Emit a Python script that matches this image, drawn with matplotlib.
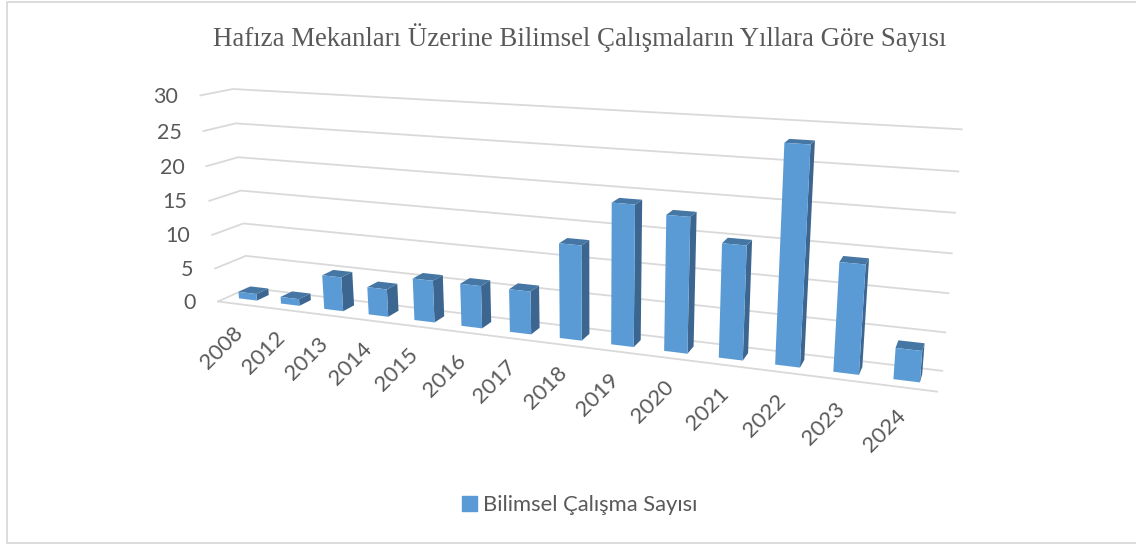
import numpy as np
import matplotlib
matplotlib.use('Agg')
import matplotlib.pyplot as plt
from matplotlib.patches import Patch
from matplotlib.transforms import Transform

years = ['2008', '2012', '2013', '2014', '2015', '2016', '2017',
         '2018', '2019', '2020', '2021', '2022', '2023', '2024']
counts = [1, 1, 5, 4, 6, 6, 6, 13, 19, 18, 15, 28, 14, 4]
y_ticks = [0, 5, 10, 15, 20, 25, 30]

title = 'Hafıza Mekanları Üzerine Bilimsel Çalışmaların Yıllara Göre Sayısı'
series_name = 'Bilimsel Çalışma Sayısı'

front_color = '#5B9BD5'
side_color = '#3C6590'
top_color = '#4676A3'
grid_color = '#D9D9D9'
text_color = '#595959'

# corners of the 3d box as they sit in the picture: (x, value, depth) -> pixel
anchors = [
    ((0, 0, 0), (218.3, 301.0)), ((0, 0, 1), (248.3, 288.3)),
    ((14, 0, 1), (942.3, 370.7)), ((14, 0, 0), (937.3, 391.7)),
    ((0, 30, 0), (200.0, 95.7)), ((0, 30, 1), (233.3, 88.7)),
    ((14, 30, 1), (961.7, 129.3)), ((0, 10, 1), (243.3, 223.3)),
    ((14, 10, 1), (948.3, 293.3)), ((0, 15, 0), (209.3, 201.0)),
]

# fit a camera matrix to the corners
rows = []
for (X, Y, Z), (u, v) in anchors:
    rows.append([X, Y, Z, 1, 0, 0, 0, 0, -u*X, -u*Y, -u*Z, -u])
    rows.append([0, 0, 0, 0, X, Y, Z, 1, -v*X, -v*Y, -v*Z, -v])
cam = np.linalg.svd(np.array(rows, dtype=float))[2][-1].reshape(3, 4)


def project(x, y, z):
    p = cam @ np.array([x, y, z, 1.0])
    return p[0] / p[2], p[1] / p[2]


class FrontFace(Transform):
    # (category, value) on the plane at depth z -> pixel
    input_dims = 2
    output_dims = 2

    def __init__(self, z):
        super().__init__()
        self.z = z

    def transform_non_affine(self, values):
        values = np.asarray(values, dtype=float)
        out = [project(x, y, self.z) for x, y in values]
        return np.array(out)


fig = plt.figure(figsize=(11.36, 5.44), dpi=100)
ax = fig.add_axes([0, 0, 1, 1])
ax.set_xlim(0, 1136)
ax.set_ylim(544, 0)
ax.autoscale(False)
ax.axis('off')

plt.rcParams['font.family'] = ['Lato', 'DejaVu Sans']

# chart border, the right side is cut off in the picture
ax.plot([1136, 7, 7, 1136], [1.5, 1.5, 543.2, 543.2], color=grid_color, lw=1.3, zorder=1)

# gridlines on the side wall and the back wall
for t in y_ticks:
    pts = [project(0, t, 0), project(0, t, 1), project(14, t, 1)]
    ax.plot([p[0] for p in pts], [p[1] for p in pts], color=grid_color, lw=1.3, zorder=1)
    ax.text(pts[0][0] - 22, pts[0][1] + 1.5, str(t), ha='right', va='center',
            fontsize=15.5, color=text_color)

# front edge of the floor
pts = [project(0, 0, 0), project(14, 0, 0)]
ax.plot([p[0] for p in pts], [p[1] for p in pts], color=grid_color, lw=1.3, zorder=1)

bar_w = 0.43
z0, z1 = 0.32, 0.72
xs = np.arange(len(years)) + 0.48

for i, (x, c) in enumerate(zip(xs, counts)):
    l, r = x - bar_w / 2, x + bar_w / 2
    zo = 3 + i
    side = [project(r, 0, z0), project(r, 0, z1), project(r, c, z1), project(r, c, z0)]
    top = [project(l, c, z0), project(r, c, z0), project(r, c, z1), project(l, c, z1)]
    ax.fill(*zip(*side), color=side_color, lw=0, zorder=zo)
    ax.fill(*zip(*top), color=top_color, lw=0, zorder=zo)
    ax.bar(x, c, bar_w, color=front_color, transform=FrontFace(z0) + ax.transData, zorder=zo)

    # year labels spread out towards the right, more than the floor does
    lx = 243.3 + 40.7 * i + 0.79 * i ** 2 - 10.5
    ly = 325.7 + 5.0 * i + 0.108 * i ** 2 - 3
    ax.text(lx, ly, years[i], rotation=45, ha='right', va='top',
            rotation_mode='anchor', fontsize=15.8, color=text_color)

ax.text(579.5, 38, title, ha='center', va='center', fontsize=19.4,
        family='Liberation Serif', color=text_color)

ax.legend(handles=[Patch(color=front_color, label=series_name)], loc='center',
          bbox_to_anchor=(580 / 1136, 1 - 505 / 544), frameon=False, fontsize=15.8,
          labelcolor=text_color, handlelength=0.64, handleheight=0.64, handletextpad=0.3)

fig.savefig('out.png', dpi=100)
